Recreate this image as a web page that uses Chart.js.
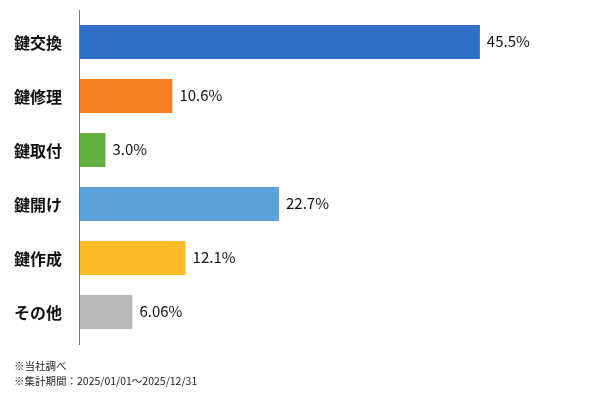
<!DOCTYPE html>
<html>
<head>
<meta charset="utf-8">
<script src="https://cdn.jsdelivr.net/npm/chart.js@4"></script>
<style>
html,body{margin:0;padding:0;background:#fff;}
#wrap{width:600px;height:400px;position:relative;}
</style>
</head>
<body>
<div id="wrap"><canvas id="c" width="600" height="400"></canvas></div>
<script>
const categories = ["鍵交換", "鍵修理", "鍵取付", "鍵開け", "鍵作成", "その他"];
const values = [45.5, 10.6, 3.0, 22.7, 12.1, 6.06];
const valueLabels = ["45.5%", "10.6%", "3.0%", "22.7%", "12.1%", "6.06%"];
const barColors = ["#2E6FC7", "#F47F20", "#63AF3E", "#5BA2DD", "#FDBC26", "#B7B7B7"];
const footnotes = ["※当社調べ", "※集計期間：2025/01/01〜2025/12/31"];

const FONT = '"Noto Sans CJK JP", "Noto Sans", sans-serif';

const extras = {
  id: 'extras',
  afterDatasetsDraw(chart) {
    const ctx = chart.ctx;
    const area = chart.chartArea;
    ctx.save();
    ctx.strokeStyle = '#777';
    ctx.lineWidth = 1;
    ctx.beginPath();
    ctx.moveTo(area.left + 0.5, area.top - 5);
    ctx.lineTo(area.left + 0.5, area.bottom + 6);
    ctx.stroke();
    const meta = chart.getDatasetMeta(0);
    ctx.fillStyle = '#111';
    ctx.font = '15px ' + FONT;
    ctx.textAlign = 'left';
    ctx.textBaseline = 'middle';
    meta.data.forEach((bar, i) => {
      ctx.fillText(valueLabels[i], bar.x + 7, bar.y - 1);
    });
    ctx.font = '10.5px ' + FONT;
    ctx.fillStyle = '#222';
    footnotes.forEach((t, i) => {
      ctx.fillText(t, 14, 366 + i * 15);
    });
    ctx.restore();
  }
};

new Chart(document.getElementById('c'), {
  type: 'bar',
  data: {
    labels: categories,
    datasets: [{
      data: values,
      backgroundColor: barColors,
      borderWidth: 0,
      categoryPercentage: 1,
      barPercentage: 0.63
    }]
  },
  options: {
    indexAxis: 'y',
    responsive: false,
    animation: false,
    events: [],
    layout: { padding: { top: 15, bottom: 61, right: 10, left: 0 } },
    plugins: { legend: { display: false }, tooltip: { enabled: false } },
    scales: {
      x: { display: false, min: 0, max: 58 },
      y: {
        grid: { display: false, drawTicks: false },
        border: { display: false },
        ticks: {
          color: '#111',
          padding: 17,
          labelOffset: 1,
          font: { family: FONT, size: 16, weight: 'bold' }
        },
        afterFit(scale) {
          scale.width = 79;
          scale.paddingTop = 0;
          scale.paddingBottom = 0;
        }
      }
    }
  },
  plugins: [extras]
});
</script>
</body>
</html>
